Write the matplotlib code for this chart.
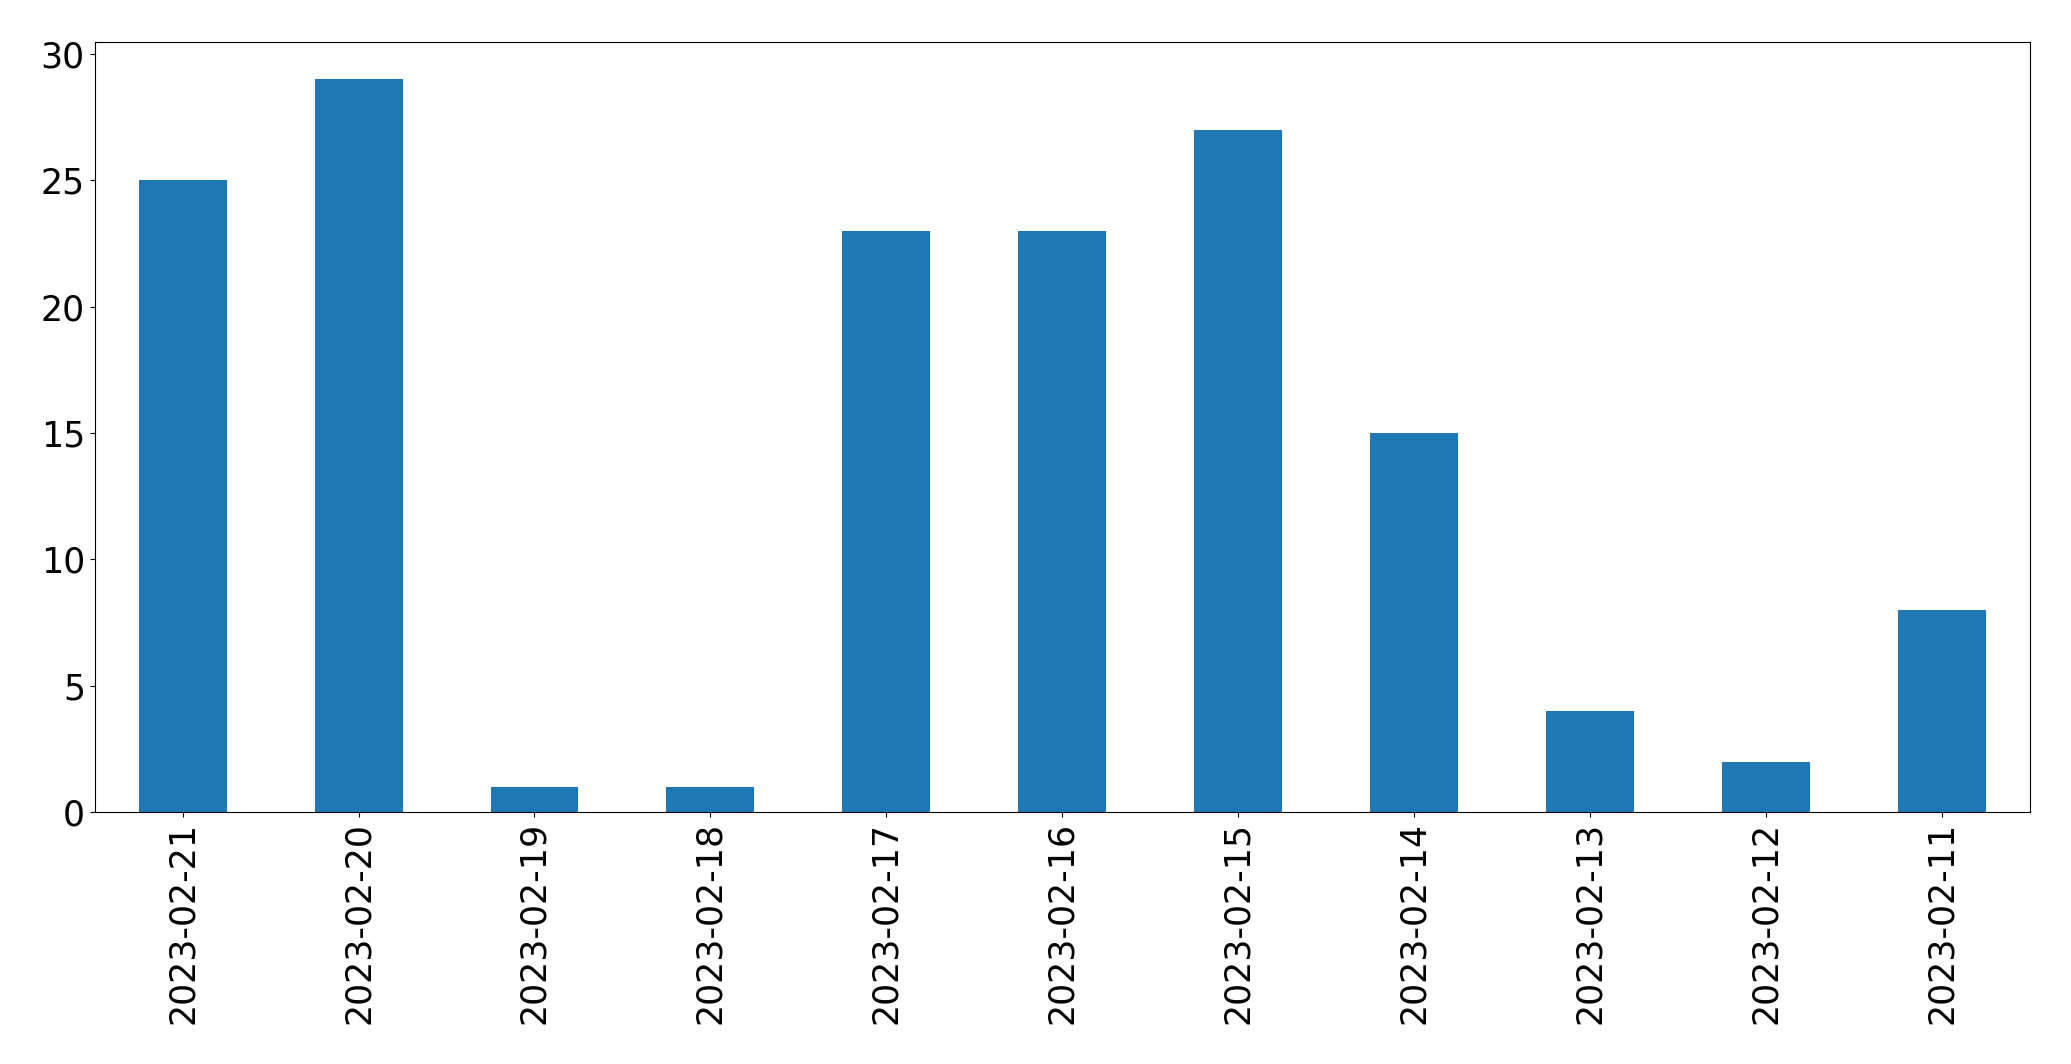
import matplotlib
matplotlib.use("Agg")
import matplotlib.pyplot as plt
import numpy as np

DATES = ['2023-02-21', '2023-02-20', '2023-02-19', '2023-02-18', '2023-02-17',
         '2023-02-16', '2023-02-15', '2023-02-14', '2023-02-13', '2023-02-12',
         '2023-02-11']
COUNTS = [25, 29, 1, 1, 23, 23, 27, 15, 4, 2, 8]

fig = plt.figure(figsize=(20.71, 10.64), dpi=100)
ax = fig.add_axes([0.0457, 0.2366, 0.9345, 0.7236])

x = np.arange(len(DATES))
ax.bar(x, COUNTS, width=0.5, color='#1f77b4')
ax.set_xlim(-0.5, len(DATES) - 0.5)
ax.set_xticks(x)
ax.set_xticklabels(DATES, rotation=90)
ax.tick_params(labelsize=25)

fig.savefig("out.png", dpi=100)
